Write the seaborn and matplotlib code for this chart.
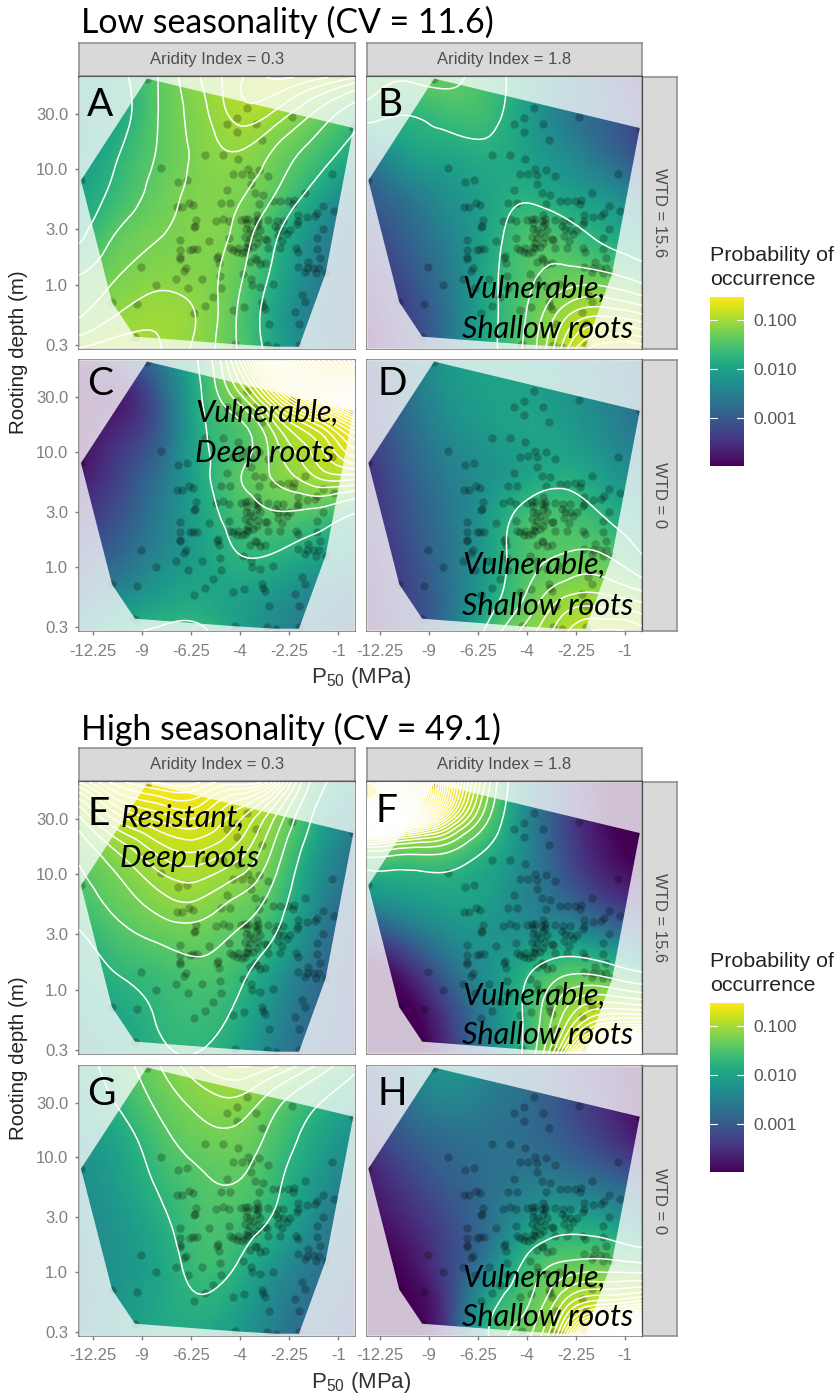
import numpy as np
import matplotlib
matplotlib.use("Agg")
import matplotlib.pyplot as plt
import seaborn as sns
from matplotlib.cm import ScalarMappable
from matplotlib.colors import Normalize
from matplotlib.patches import PathPatch
from matplotlib.path import Path
from matplotlib.tri import Triangulation, UniformTriRefiner

############################################################################
# DATA
############################################################################

# species points, same in every panel. axes are sqrt(-P50) and log10(depth)
sqrt_p50 = [1.926,2.028,2.136,1.838,2.028,1.472,1.773,2.947,0.847,2.360,2.170,2.021,2.801,2.635,2.543,2.075,
	1.984,1.916,1.804,1.892,1.712,1.068,1.892,2.133,1.845,1.339,1.763,1.804,3.619,1.662,1.594,1.509,
	1.451,1.458,2.516,2.476,2.638,2.591,2.191,2.103,1.160,1.048,1.238,1.214,1.322,1.414,1.414,1.424,
	2.448,2.455,2.469,2.245,2.170,2.116,1.994,1.950,1.916,1.831,1.814,1.933,1.814,1.712,1.628,1.560,
	1.645,1.611,1.560,1.492,1.526,1.160,1.940,1.899,1.831,1.797,1.950,2.109,2.316,2.608,1.729,1.814,
	1.899,1.916,1.940,1.617,1.570,1.221,2.608,2.608,2.510,2.476,2.435,2.103,2.069,2.028,1.984,1.950,
	1.916,1.865,1.712,1.594,1.431,1.407,1.221,2.221,2.238,2.611,2.214,1.899,1.831,1.797,1.746,1.848,
	1.305,1.187,3.005,2.554,2.571,1.414,1.322,1.254,1.193,1.129,1.227,1.339,2.652,2.384,2.204,1.967,
	1.892,2.856,2.527,2.191,1.882,1.797,1.668,2.272,2.353,2.472,2.075,1.957,1.773,1.763,1.743,1.441,
	1.373,1.339,3.303,3.052,1.706,1.400,3.069,2.048,1.729,1.638,1.400,1.865,1.848,1.746,2.018,1.831]
log_depth = [1.529,1.442,1.390,1.387,1.318,1.451,1.254,1.783,1.355,1.121,1.118,1.084,1.006,0.887,0.905,0.957,
	0.960,1.003,0.994,0.951,0.936,0.957,0.870,0.815,0.792,0.792,0.777,0.699,0.902,0.720,0.720,0.725,
	0.731,0.694,0.705,0.685,0.668,0.668,0.702,0.702,0.676,0.639,0.590,0.618,0.584,0.604,0.546,0.526,
	0.561,0.503,0.497,0.552,0.569,0.546,0.555,0.566,0.569,0.604,0.566,0.532,0.537,0.555,0.546,0.546,
	0.503,0.480,0.474,0.474,0.439,0.480,0.480,0.468,0.503,0.474,0.416,0.402,0.381,0.387,0.387,0.410,
	0.402,0.358,0.324,0.422,0.381,0.402,0.300,0.237,0.300,0.306,0.306,0.315,0.300,0.280,0.272,0.286,
	0.315,0.329,0.315,0.315,0.315,0.286,0.306,0.243,0.228,0.220,0.185,0.191,0.214,0.179,0.185,0.228,
	0.199,0.228,0.150,0.142,0.121,0.156,0.142,0.147,0.142,0.098,0.098,0.113,0.046,0.046,0.075,0.092,
	0.046,-0.003,-0.026,-0.026,-0.003,-0.017,0.003,-0.110,-0.185,-0.249,-0.220,-0.191,-0.153,-0.185,-0.214,-0.234,
	-0.090,-0.147,-0.153,-0.171,-0.344,-0.344,-0.451,-0.517,-0.523,-0.538,-0.523,0.445,0.546,0.393,0.315,0.358]

# convex hull of the points
hull_sqrt_p50 = [2.947,0.847,1.129,1.400,1.638,2.048,3.069,3.303,3.619]
hull_log_depth = [1.783,1.355,0.098,-0.538,-0.538,-0.517,-0.451,-0.153,0.902]

# log10(probability) read on an 8x8 grid, rows top to bottom, columns left to right
grid_a = [[-2.10,-1.85,-1.42,-1.12,-0.95,-0.85,-0.90,-1.00],
	[-2.15,-1.90,-1.42,-1.17,-0.98,-1.05,-1.28,-1.60],
	[-2.20,-1.75,-1.40,-1.20,-1.12,-1.28,-1.55,-1.95],
	[-2.00,-1.62,-1.33,-1.20,-1.21,-1.43,-1.90,-2.50],
	[-1.85,-1.40,-1.25,-1.18,-1.28,-1.70,-2.30,-2.80],
	[-1.45,-1.25,-1.17,-1.18,-1.35,-1.85,-2.45,-2.90],
	[-1.28,-1.12,-1.05,-1.12,-1.42,-2.00,-2.55,-2.95],
	[-1.00,-0.95,-1.00,-1.14,-1.42,-1.95,-2.50,-2.95]]
grid_b = [[-1.40,-1.38,-1.35,-1.55,-1.95,-2.50,-3.00,-3.60],
	[-1.60,-1.75,-1.62,-1.62,-2.00,-2.50,-2.90,-3.30],
	[-2.60,-2.10,-1.95,-1.85,-2.00,-2.30,-2.70,-3.20],
	[-3.00,-2.60,-2.25,-2.00,-1.82,-2.00,-2.20,-2.60],
	[-3.30,-2.90,-2.45,-2.00,-1.55,-1.60,-1.85,-2.10],
	[-3.60,-3.10,-2.60,-1.95,-1.50,-1.38,-1.42,-1.60],
	[-3.80,-3.30,-2.70,-1.95,-1.45,-1.08,-0.98,-1.05],
	[-3.95,-3.40,-2.75,-1.95,-1.40,-0.90,-0.72,-0.72]]
grid_c = [[-3.80,-3.40,-2.60,-1.75,-0.90,-0.40,-0.20,-0.10],
	[-3.90,-3.75,-3.00,-1.85,-1.20,-0.72,-0.45,-0.30],
	[-3.95,-3.50,-2.95,-1.90,-1.55,-1.10,-0.85,-0.65],
	[-3.75,-3.30,-2.70,-1.95,-1.45,-1.20,-1.00,-0.95],
	[-3.50,-3.10,-2.55,-2.00,-1.60,-1.45,-1.52,-1.78],
	[-3.20,-2.85,-2.40,-2.05,-1.75,-1.76,-1.95,-2.20],
	[-2.75,-2.40,-2.10,-1.95,-2.00,-2.15,-2.40,-2.65],
	[-2.20,-1.85,-1.70,-1.68,-2.00,-2.35,-2.65,-2.85]]
grid_d = [[-3.30,-2.60,-2.15,-2.00,-2.05,-2.20,-2.50,-2.85],
	[-3.35,-2.75,-2.25,-2.05,-2.00,-2.15,-2.40,-2.75],
	[-3.35,-2.85,-2.40,-2.15,-2.00,-2.05,-2.30,-2.60],
	[-3.50,-3.00,-2.55,-2.25,-2.00,-1.85,-2.05,-2.35],
	[-3.55,-3.10,-2.65,-2.15,-1.62,-1.55,-1.75,-2.05],
	[-3.65,-3.20,-2.70,-2.10,-1.55,-1.42,-1.42,-1.75],
	[-3.75,-3.30,-2.75,-2.05,-1.45,-1.15,-1.12,-1.22],
	[-3.85,-3.35,-2.75,-1.72,-1.20,-0.95,-0.85,-0.90]]
grid_e = [[-0.75,-0.60,-0.55,-0.55,-0.60,-0.75,-1.55,-2.05],
	[-1.15,-0.85,-0.75,-0.72,-0.85,-1.15,-1.85,-2.50],
	[-1.40,-1.15,-0.95,-0.90,-1.00,-1.35,-2.10,-2.70],
	[-1.55,-1.32,-1.15,-1.10,-1.25,-1.55,-2.30,-2.90],
	[-1.80,-1.52,-1.38,-1.33,-1.45,-1.78,-2.50,-3.05],
	[-2.00,-1.75,-1.62,-1.50,-1.64,-2.15,-2.70,-3.10],
	[-2.15,-1.95,-1.72,-1.63,-1.82,-2.35,-2.80,-3.15],
	[-2.30,-2.05,-1.80,-1.75,-2.00,-2.50,-2.90,-3.20]]
grid_f = [[0.00,-0.20,-0.50,-1.10,-2.20,-3.20,-3.90,-4.20],
	[-0.30,-0.45,-0.75,-1.35,-2.30,-3.20,-3.85,-4.20],
	[-1.50,-1.55,-1.55,-1.85,-2.35,-3.10,-3.70,-4.05],
	[-2.30,-2.10,-2.00,-2.05,-2.40,-2.80,-3.30,-3.60],
	[-3.40,-2.90,-2.40,-2.20,-2.20,-2.15,-2.40,-2.80],
	[-4.10,-3.70,-2.95,-2.30,-1.80,-1.42,-1.42,-1.62],
	[-4.20,-4.10,-3.40,-2.50,-1.72,-1.10,-0.85,-0.85],
	[-4.30,-4.20,-3.60,-2.60,-1.70,-0.80,-0.35,-0.25]]
grid_g = [[-1.95,-1.55,-1.25,-1.02,-0.92,-1.00,-1.25,-1.65],
	[-2.05,-1.72,-1.38,-1.20,-1.15,-1.38,-1.72,-2.05],
	[-2.20,-1.95,-1.55,-1.33,-1.30,-1.55,-1.95,-2.30],
	[-2.30,-2.05,-1.70,-1.47,-1.42,-1.68,-2.15,-2.55],
	[-2.40,-2.15,-1.85,-1.55,-1.56,-1.82,-2.35,-2.80],
	[-2.45,-2.20,-1.95,-1.62,-1.72,-2.15,-2.55,-2.95],
	[-2.50,-2.20,-1.95,-1.76,-1.95,-2.40,-2.75,-3.05],
	[-2.45,-2.15,-1.95,-1.95,-2.15,-2.55,-2.90,-3.15]]
grid_h = [[-3.00,-2.50,-2.15,-2.40,-2.70,-3.10,-3.60,-4.00],
	[-3.20,-2.75,-2.45,-2.55,-2.75,-3.10,-3.50,-3.90],
	[-3.50,-3.05,-2.80,-2.70,-2.75,-2.95,-3.30,-3.70],
	[-3.75,-3.35,-3.00,-2.75,-2.55,-2.55,-2.75,-3.05],
	[-3.95,-3.60,-3.20,-2.75,-2.20,-1.95,-2.05,-2.35],
	[-4.10,-3.85,-3.30,-2.60,-1.75,-1.45,-1.42,-1.50],
	[-4.25,-4.00,-3.40,-2.10,-1.50,-1.05,-0.90,-0.85],
	[-4.30,-4.10,-3.50,-1.85,-1.30,-0.75,-0.30,-0.25]]

p50_ticks = [-12.25,-9,-6.25,-4,-2.25,-1]
p50_labels = ["-12.25","-9","-6.25","-4","-2.25","-1"]
depth_ticks = [0.3,1.0,3.0,10.0,30.0]
depth_labels = ["0.3","1.0","3.0","10.0","30.0"]
prob_ticks = [0.001,0.010,0.100]
prob_labels = ["0.001","0.010","0.100"]
# white lines are evenly spaced in probability, not in log
contour_probs = [0.018+0.02*k for k in range(50)]

############################################################################

WIDTH = 838
HEIGHT = 1395
XLIM = (3.636,0.827)
YLIM = (-0.558,1.797)
PROB_MIN = -3.98
PROB_MAX = -0.53

GREY_TEXT = "#7f7f7f"
STRIP_TEXT = "#4d4d4d"

def px_axes(fig, left, top, right, bottom):
	return fig.add_axes([left/WIDTH, 1-bottom/HEIGHT, (right-left)/WIDTH, (bottom-top)/HEIGHT])

def px_text(fig, x, y, s, **kwargs):
	kwargs.setdefault("va","baseline")
	return fig.text(x/WIDTH, 1-y/HEIGHT, s, **kwargs)

def draw_panel(fig, rect, grid, cmap, left_labels, bottom_labels):
	ax = px_axes(fig, *rect)

	xs,ys = np.meshgrid(np.linspace(XLIM[0],XLIM[1],8), np.linspace(YLIM[1],YLIM[0],8))
	tri = Triangulation(xs.ravel(), ys.ravel())
	fine_tri,fine_z = UniformTriRefiner(tri).refine_field(np.array(grid).ravel(), subdiv=3)

	ax.tripcolor(fine_tri, fine_z, shading="gouraud", cmap=cmap, vmin=PROB_MIN, vmax=PROB_MAX, zorder=1)
	sns.scatterplot(x=sqrt_p50, y=log_depth, ax=ax, color="black", alpha=0.24, s=36, linewidth=0, zorder=2)

	# washed out area outside of the hull
	corners = [(XLIM[0],YLIM[0]),(XLIM[1],YLIM[0]),(XLIM[1],YLIM[1]),(XLIM[0],YLIM[1]),(XLIM[0],YLIM[0])]
	hull = list(zip(hull_sqrt_p50,hull_log_depth))
	hull = hull + [hull[0]]
	verts = corners + hull
	codes = [Path.MOVETO]+[Path.LINETO]*3+[Path.CLOSEPOLY]+[Path.MOVETO]+[Path.LINETO]*(len(hull)-2)+[Path.CLOSEPOLY]
	ax.add_patch(PathPatch(Path(verts,codes), facecolor="white", edgecolor="none", alpha=0.76, zorder=3))

	ax.tricontour(fine_tri, fine_z, levels=np.log10(contour_probs), colors="white", linewidths=1.1, linestyles="solid", zorder=4)

	ax.set_xlim(*XLIM)
	ax.set_ylim(*YLIM)
	ax.set_xlabel("")
	ax.set_ylabel("")
	ax.set_xticks(np.sqrt(-np.array(p50_ticks)))
	ax.set_yticks(np.log10(depth_ticks))
	ax.set_xticklabels(p50_labels if bottom_labels else [])
	ax.set_yticklabels(depth_labels if left_labels else [])
	ax.tick_params(axis="x", bottom=bottom_labels, length=3, width=1, color=GREY_TEXT, labelcolor=GREY_TEXT, labelsize=12, pad=6)
	ax.tick_params(axis="y", left=left_labels, length=3, width=1, color=GREY_TEXT, labelcolor=GREY_TEXT, labelsize=12, pad=5)
	for spine in ax.spines.values():
		spine.set_visible(True)
		spine.set_color(GREY_TEXT)
		spine.set_linewidth(1.2)
	return ax

def draw_strip(fig, rect, text, rotation=0):
	ax = px_axes(fig, *rect)
	ax.set_facecolor("#d9d9d9")
	ax.set_xticks([])
	ax.set_yticks([])
	for spine in ax.spines.values():
		spine.set_visible(True)
		spine.set_color("#8a8a8a")
		spine.set_linewidth(1.1)
	ax.text(0.5, 0.5, text, transform=ax.transAxes, ha="center", va="center", rotation=rotation, color=STRIP_TEXT, fontsize=12)

def draw_legend(fig, top, cmap):
	px_text(fig, 710, top-36, "Probability of", fontsize=15.4, color="#222222")
	px_text(fig, 710, top-12, "occurrence", fontsize=15.4, color="#222222")
	cax = px_axes(fig, 710, top, 744, top+169)
	sm = ScalarMappable(norm=Normalize(PROB_MIN,PROB_MAX), cmap=cmap)
	bar = fig.colorbar(sm, cax=cax, ticks=np.log10(prob_ticks))
	bar.ax.set_yticklabels(prob_labels)
	bar.ax.tick_params(length=0, labelsize=12.5, labelcolor="#555555", pad=7)
	bar.outline.set_visible(False)
	for value in np.log10(prob_ticks):
		cax.plot([0,0.2],[value,value], color="white", lw=0.8, transform=cax.get_yaxis_transform())
		cax.plot([0.8,1],[value,value], color="white", lw=0.8, transform=cax.get_yaxis_transform())

def draw_block(fig, tops, grids, cmap, title, title_y, letters, notes):
	col_left = (79.3,355.3)
	col_right = (366.7,641.7)
	strip_top = tops[0][0]-34
	draw_strip(fig, (col_left[0],strip_top,col_left[1],tops[0][0]-1), "Aridity Index = 0.3")
	draw_strip(fig, (col_right[0],strip_top,col_right[1],tops[0][0]-1), "Aridity Index = 1.8")
	draw_strip(fig, (col_right[1],tops[0][0],677,tops[0][1]), "WTD = 15.6", rotation=-90)
	draw_strip(fig, (col_right[1],tops[1][0],677,tops[1][1]), "WTD = 0", rotation=-90)

	idx = 0
	for row,(top,bottom) in enumerate(tops):
		for col,(left,right) in enumerate((col_left,col_right)):
			ax = draw_panel(fig, (left,top,right,bottom), grids[idx], cmap, col==0, row==1)
			if row == 0:
				ax.spines["top"].set_color("#4a4a4a")
			if col == 1:
				ax.spines["right"].set_color("#4a4a4a")
				ax.spines["right"].set_linewidth(1.6)
			idx += 1

	px_text(fig, 81, title_y, title, fontsize=24.4, color="black")
	for letter,x,y in letters:
		px_text(fig, x, y, letter, fontsize=28, color="black")
	for line,x,y in notes:
		px_text(fig, x, y, line, fontsize=22, style="italic", color="black")

	mid_y = (tops[0][1]+tops[1][0])/2
	px_text(fig, 19, mid_y-2, "Rooting depth (m)", rotation=90, ha="center", va="center", fontsize=14.8, color="#222222")
	px_text(fig, 361, tops[1][1]+52, "P$_{50}$ (MPa)", ha="center", fontsize=16, color="#333333")

def main():
	sns.set_theme(style="white")
	plt.rcParams["font.family"] = ["Liberation Sans","DejaVu Sans"]
	plt.rcParams["mathtext.default"] = "regular"
	cmap = sns.color_palette("viridis", as_cmap=True)

	fig = plt.figure(figsize=(WIDTH/100,HEIGHT/100), dpi=100, facecolor="white")

	draw_block(fig, [(77,349),(360,631)], [grid_a,grid_b,grid_c,grid_d], cmap,
		"Low seasonality (CV = 11.6)", 33,
		[("A",87,116),("B",377,116),("C",87,395),("D",377,395)],
		[("Vulnerable,",462,298),("Shallow roots",462,338),("Vulnerable,",195,422),("Deep roots",195,462),
		("Vulnerable,",462,574),("Shallow roots",462,615)])
	draw_block(fig, [(782,1054),(1066,1336)], [grid_e,grid_f,grid_g,grid_h], cmap,
		"High seasonality (CV = 49.1)", 740,
		[("E",87,825),("F",375,822),("G",87,1105),("H",377,1105)],
		[("Resistant,",120,827),("Deep roots",120,867),("Vulnerable,",462,1005),("Shallow roots",462,1044),
		("Vulnerable,",462,1287),("Shallow roots",462,1326)])

	draw_legend(fig, 297, cmap)
	draw_legend(fig, 1003, cmap)

	for text in fig.texts:
		if text.get_fontsize() >= 20:
			text.set_fontfamily(["Lato","DejaVu Sans"])

	fig.savefig("out.png", dpi=100, facecolor="white")

if __name__ == "__main__":
	main()
